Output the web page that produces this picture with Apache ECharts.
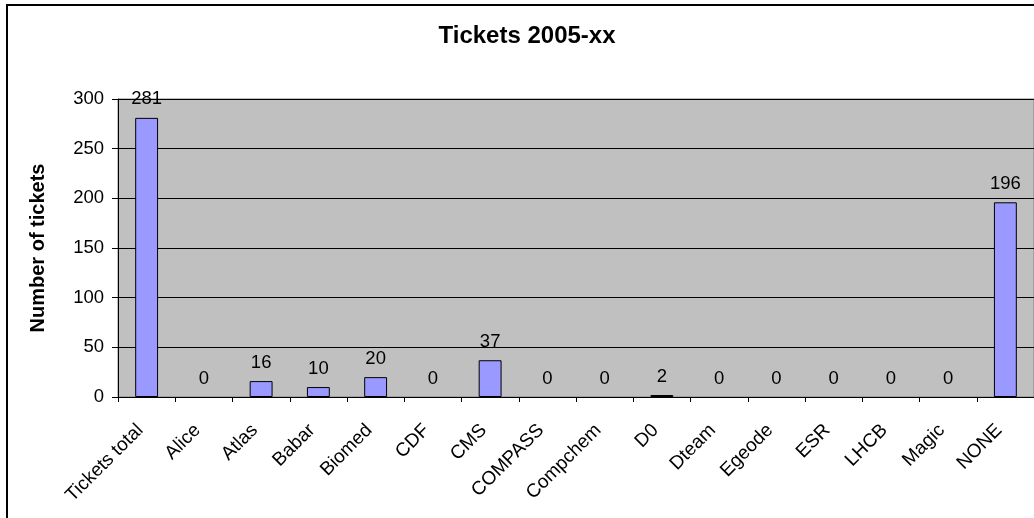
<!DOCTYPE html>
<html>
<head>
<meta charset="utf-8">
<script src="https://cdn.jsdelivr.net/npm/echarts@6/dist/echarts.min.js"></script>
<style>
html,body{margin:0;padding:0;background:#fff;}
#chart{width:1034px;height:518px;}
</style>
</head>
<body>
<div id="chart"></div>
<script>
const titleText = 'Tickets 2005-xx';
const yAxisTitle = 'Number of tickets';
const categories = ['Tickets total','Alice','Atlas','Babar','Biomed','CDF','CMS','COMPASS','Compchem','D0','Dteam','Egeode','ESR','LHCB','Magic','NONE'];
const tickets = [281, 0, 16, 10, 20, 0, 37, 0, 0, 2, 0, 0, 0, 0, 0, 196];
const yTicks = [0, 50, 100, 150, 200, 250, 300];

const FONT = '"Liberation Sans", Arial, sans-serif';
const chart = echarts.init(document.getElementById('chart'), null, {renderer: 'canvas'});
chart.setOption({
  animation: false,
  backgroundColor: '#ffffff',
  graphic: [
    {type: 'rect', shape: {x: 7, y: 5, width: 1100, height: 600}, style: {fill: 'none', stroke: '#000', lineWidth: 2}, z: 100},
    {type: 'text', x: 527, y: 36, style: {text: titleText, font: 'bold 24px ' + FONT, fill: '#000', align: 'center', verticalAlign: 'middle'}, z: 100}
  ],
  grid: {left: 118, top: 99, right: -1, bottom: 121, show: true, backgroundColor: '#C0C0C0', borderColor: '#808080', borderWidth: 1},
  xAxis: {
    type: 'category',
    data: categories,
    axisLine: {lineStyle: {color: '#000', width: 1}},
    axisTick: {show: true, length: 5, lineStyle: {color: '#000'}},
    axisLabel: {rotate: 45, margin: 24, padding: [0, 9, 0, 0], color: '#000', fontSize: 19, fontFamily: FONT, interval: 0}
  },
  yAxis: {
    type: 'value',
    min: yTicks[0],
    max: yTicks[yTicks.length - 1],
    interval: 50,
    name: yAxisTitle,
    nameLocation: 'middle',
    nameGap: 70,
    nameTextStyle: {fontSize: 20, fontWeight: 'bold', fontFamily: FONT, color: '#000'},
    axisLine: {show: true, lineStyle: {color: '#000', width: 1}},
    axisTick: {show: true, length: 6, lineStyle: {color: '#000'}},
    axisLabel: {margin: 14, color: '#000', fontSize: 18.5, fontFamily: FONT},
    splitLine: {show: true, lineStyle: {color: '#000', width: 1}}
  },
  series: [{
    type: 'bar',
    data: tickets.map(v => v === 0 ? {value: v, itemStyle: {borderWidth: 0}} : v),
    barWidth: '40%',
    itemStyle: {color: '#9999FF', borderColor: '#000', borderWidth: 1},
    label: {show: true, position: 'top', distance: 9, color: '#000', fontSize: 18.5, fontFamily: FONT}
  }]
});
</script>
</body>
</html>
